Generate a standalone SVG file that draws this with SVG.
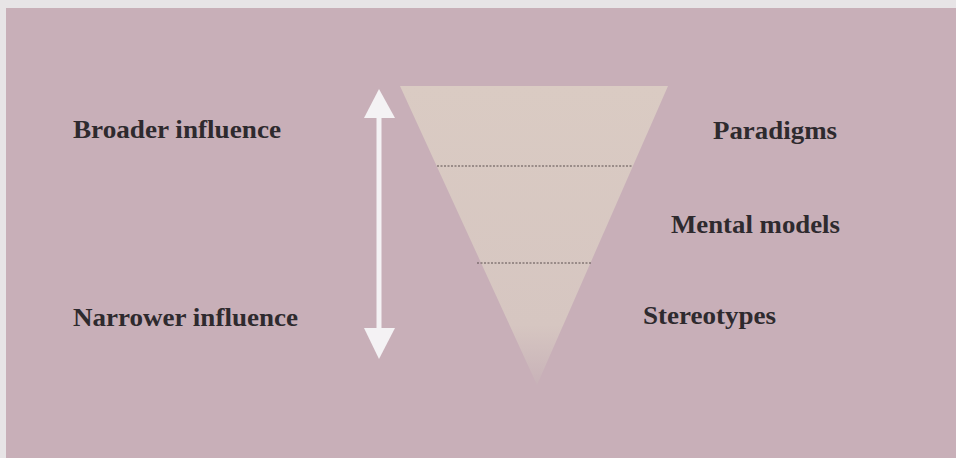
<svg xmlns="http://www.w3.org/2000/svg" width="956" height="458" viewBox="0 0 956 458">
<style>
.lbl{font-family:"Liberation Serif","Times New Roman",serif;font-weight:bold;font-size:26px;fill:#2e2a2e}
.div{stroke:#5a4e4e;stroke-width:1;stroke-dasharray:2 1.5;fill:none}
</style>
<defs>
<linearGradient id="tri" x1="0" y1="0" x2="0" y2="1">
<stop offset="0" stop-color="#dacbc3"/>
<stop offset="0.8" stop-color="#d6c6c1"/>
<stop offset="1" stop-color="#c8b2b8"/>
</linearGradient>
</defs>
<rect width="956" height="458" fill="#e7e4e6"/>
<rect x="6" y="8" width="950" height="450" fill="#c8afb8"/>
<g id="funnel">
<polygon points="400,86 668,86 537,385" fill="url(#tri)"/>
<line class="div" x1="437" y1="166" x2="633" y2="166"/>
<line class="div" x1="477" y1="263" x2="592" y2="263"/>
</g>
<g id="connectors">
<g id="arrow" fill="#f4f2f4">
<rect x="376.5" y="116" width="5" height="214"/>
<polygon points="379,89 364,118 395,118"/>
<polygon points="379,359 364,328 395,328"/>
</g>
</g>
<g id="broader"><text class="lbl" x="73" y="138" textLength="208" lengthAdjust="spacingAndGlyphs">Broader influence</text></g>
<g id="narrower"><text class="lbl" x="73" y="326" textLength="225" lengthAdjust="spacingAndGlyphs">Narrower influence</text></g>
<g id="paradigms"><text class="lbl" x="713" y="139" textLength="124" lengthAdjust="spacingAndGlyphs">Paradigms</text></g>
<g id="mental"><text class="lbl" x="671" y="233" textLength="169" lengthAdjust="spacingAndGlyphs">Mental models</text></g>
<g id="stereotypes"><text class="lbl" x="643" y="324" textLength="133" lengthAdjust="spacingAndGlyphs">Stereotypes</text></g>
</svg>
